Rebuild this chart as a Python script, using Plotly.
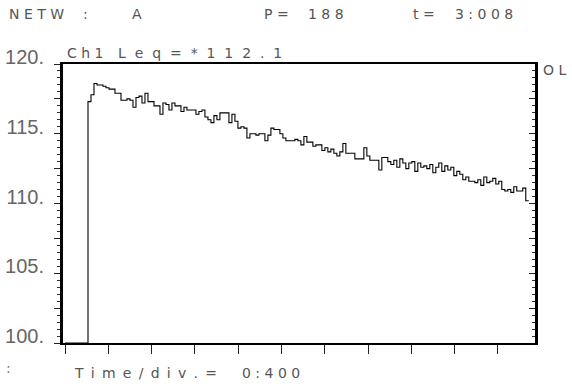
import plotly.graph_objects as go

# ---------------- data ----------------
y_tick_vals = [100, 102.5, 105, 107.5, 110, 112.5, 115, 117.5, 120]
y_tick_text = ["100.", "", "105.", "", "110.", "", "115.", "", "120."]
time_per_div = 0.4
x_tick_vals = [0.0, 0.4, 0.8, 1.2, 1.6, 2.0, 2.4, 2.8, 3.2, 3.6, 4.0]

pre_trigger_level = 100.0
t_start = 0.0
t_rise = 0.2125
dt = 0.0277
levels = [
    117.3, 117.8, 118.6, 118.5, 118.5, 118.4, 118.3, 118.2, 118.2, 117.9,
    117.9, 117.4, 117.4, 117.5, 117.4, 116.9, 117.6, 117.7, 117.2, 117.9,
    117.3, 117.3, 117.0, 117.0, 116.4, 117.2, 117.1, 116.7, 117.2, 117.0,
    117.0, 116.6, 116.9, 116.7, 116.7, 116.7, 116.4, 116.6, 116.7, 116.2,
    116.0, 115.8, 116.3, 116.0, 116.5, 116.5, 116.5, 115.8, 116.4, 115.9,
    115.4, 115.5, 115.4, 114.7, 115.0, 115.0, 114.9, 115.0, 115.0, 114.5,
    114.9, 115.4, 115.3, 115.3, 115.0, 114.7, 114.5, 114.5, 114.5, 114.6,
    114.5, 114.2, 114.8, 114.4, 114.4, 114.1, 114.2, 114.2, 113.8, 114.0,
    113.7, 113.9, 113.6, 113.4, 113.7, 114.3, 113.6, 113.6, 113.6, 113.2,
    113.2, 113.2, 114.0, 113.4, 113.1, 113.1, 113.1, 112.4, 113.3, 113.3,
    113.0, 112.8, 113.1, 112.6, 113.2, 112.9, 112.5, 112.9, 113.0, 112.3,
    112.9, 112.6, 112.7, 112.5, 112.8, 112.2, 112.6, 112.9, 112.3, 112.7,
    112.4, 112.6, 112.0, 112.3, 112.1, 111.7, 111.9, 111.6, 111.6, 111.5,
    111.7, 111.3, 111.9, 111.5, 111.6, 111.8, 111.4, 111.6, 111.0, 110.9,
    111.0, 110.8, 111.2, 110.9, 110.9, 111.1, 110.2,
]

times = [t_start] + [t_rise + i * dt for i in range(len(levels))] + [t_rise + len(levels) * dt]
values = [pre_trigger_level] + levels + [levels[-1]]

# ---------------- figure ----------------
W, H = 572, 388
L, R, T, B = 63, 535, 64, 343

def px(x):
    return (x - L) / (R - L)

def py(y):
    return (B - y) / (B - T)

fig = go.Figure()
fig.add_trace(go.Scatter(
    x=times, y=values, mode="lines", line=dict(color="black", width=1.1, shape="hv"),
    hoverinfo="skip", showlegend=False,
))
fig.add_trace(go.Scatter(x=[None], y=[None], yaxis="y2", showlegend=False, hoverinfo="skip"))

tick_font = dict(family="Liberation Sans", size=20, color="#666666")
fig.update_layout(
    width=W, height=H,
    margin=dict(l=L, r=W - R, t=T, b=H - B, pad=0),
    paper_bgcolor="white", plot_bgcolor="white",
    xaxis=dict(
        range=[-0.0185, 4.342], showgrid=False, zeroline=False,
        showline=True, linecolor="black", linewidth=1.5, mirror=True,
        tickvals=x_tick_vals, ticks="outside", ticklen=9, tickwidth=1.3, tickcolor="#222",
        showticklabels=False,
    ),
    yaxis=dict(
        range=[100, 120], showgrid=False, zeroline=False, automargin=False,
        showline=True, linecolor="black", linewidth=3, mirror=True,
        tickvals=y_tick_vals, ticktext=y_tick_text, ticks="outside", ticklen=6,
        tickwidth=1.2, tickcolor="#222", tickfont=tick_font, ticklabelshift=-7,
        ticklabelstandoff=6,
        minor=dict(tick0=100, dtick=0.5, ticks="outside", ticklen=3, tickwidth=1, tickcolor="#333"),
    ),
    yaxis2=dict(
        range=[100, 120], overlaying="y", side="right", showgrid=False, zeroline=False,
        showline=False, tickvals=y_tick_vals, ticks="inside", ticklen=6, tickwidth=1.2,
        tickcolor="#222", showticklabels=False, automargin=False,
        minor=dict(tick0=100, dtick=0.5, ticks="inside", ticklen=3, tickwidth=1, tickcolor="#333"),
    ),
)

NB = "\u00a0"
THIN = "\u2009"
GAP1 = NB
GAP15 = NB + THIN
GAP2 = NB + NB

txt_font = dict(family="DejaVu Sans", size=14, color="#555555")
labels = [
    ("NETW", 7, 14, GAP1), (":", 81, 14, GAP1), ("A", 130, 14, GAP1),
    ("P=", 262, 14, GAP1), ("188", 306, 14, GAP1),
    ("t=", 411, 14, GAP1), ("3:008", 453, 14, GAP1),
    ("Ch1", 65, 53, GAP1), ("Leq=*112.1", 116, 53, GAP2),
    ("Time/div.=", 72, 373, GAP15), ("0:400", 240, 373, GAP1),
    ("OL", 541, 70, GAP1),
]
for s, x, y, gap in labels:
    fig.add_annotation(
        text=gap.join(list(s)), x=px(x), y=py(y), xref="paper", yref="paper",
        xanchor="left", yanchor="middle", showarrow=False, font=txt_font,
    )
fig.add_annotation(text=":", x=px(4), y=py(368), xref="paper", yref="paper",
                   xanchor="left", yanchor="middle", showarrow=False,
                   font=dict(family="DejaVu Sans", size=14, color="#777777"))

fig.write_html("out.html", post_script="document.body.style.margin='0';",
               config={"displayModeBar": False})
